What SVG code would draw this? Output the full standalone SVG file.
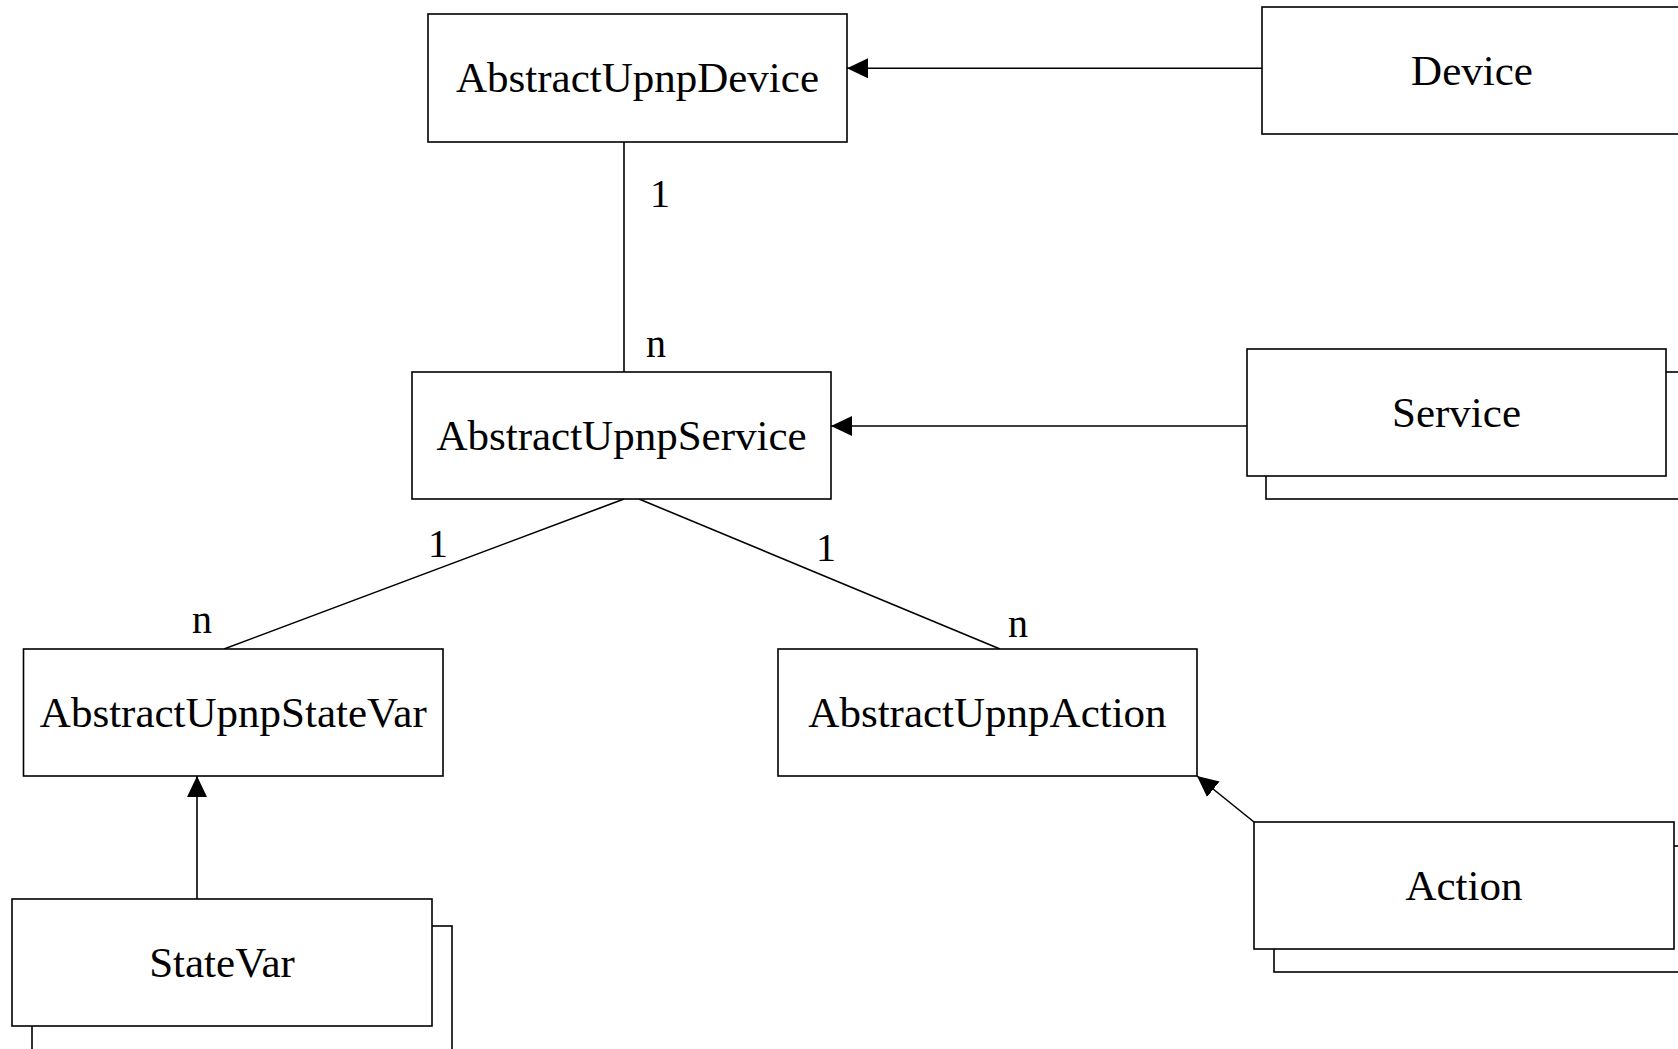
<svg xmlns="http://www.w3.org/2000/svg" width="1678" height="1049" viewBox="0 0 1678 1049">
<style>
.box{fill:#fff;stroke:#000;stroke-width:1.6}
.lbl{font-family:"Liberation Serif","Times New Roman",serif;font-size:43px;fill:#000;text-anchor:middle}
.mult{font-family:"Liberation Serif","Times New Roman",serif;font-size:40px;fill:#000;text-anchor:middle}
.edge{fill:none;stroke:#000;stroke-width:1.6}
</style>
<defs>
<marker id="arr" markerUnits="userSpaceOnUse" markerWidth="22" markerHeight="20" refX="21" refY="10" orient="auto">
<path d="M0,0 L21,10 L0,20 z" fill="#000"/>
</marker>
</defs>
<rect width="1678" height="1049" fill="#fff"/>
<g id="connectors">
<line class="edge" x1="1262" y1="68.3" x2="847" y2="68.3" marker-end="url(#arr)"/>
<line class="edge" x1="1247" y1="426" x2="831" y2="426" marker-end="url(#arr)"/>
<line class="edge" x1="624" y1="142" x2="624" y2="372"/>
<line class="edge" x1="624" y1="499" x2="224" y2="649"/>
<line class="edge" x1="639" y1="499" x2="1000" y2="649"/>
<line class="edge" x1="197" y1="899" x2="197" y2="776" marker-end="url(#arr)"/>
<line class="edge" x1="1254" y1="822" x2="1197" y2="776" marker-end="url(#arr)"/>
<text class="mult" x="660" y="207">1</text>
<text class="mult" x="656" y="357">n</text>
<text class="mult" x="438" y="557">1</text>
<text class="mult" x="202" y="633">n</text>
<text class="mult" x="826" y="561">1</text>
<text class="mult" x="1018" y="637">n</text>
</g>
<g id="AbstractUpnpDevice">
<rect class="box" x="428" y="14" width="419" height="128"/>
<text class="lbl" x="637.5" y="92">AbstractUpnpDevice</text>
</g>
<g id="Device">
<rect class="box" x="1262" y="7" width="420" height="127"/>
<text class="lbl" x="1472" y="85">Device</text>
</g>
<g id="AbstractUpnpService">
<rect class="box" x="412" y="372" width="419" height="127"/>
<text class="lbl" x="621.5" y="450">AbstractUpnpService</text>
</g>
<g id="Service">
<rect class="box" x="1266" y="372" width="419" height="127"/>
<rect class="box" x="1247" y="349" width="419" height="127"/>
<text class="lbl" x="1456.5" y="427">Service</text>
</g>
<g id="AbstractUpnpStateVar">
<rect class="box" x="23.5" y="649" width="419.5" height="127"/>
<text class="lbl" x="233.3" y="727">AbstractUpnpStateVar</text>
</g>
<g id="AbstractUpnpAction">
<rect class="box" x="778" y="649" width="419" height="127"/>
<text class="lbl" x="987.5" y="727">AbstractUpnpAction</text>
</g>
<g id="Action">
<rect class="box" x="1274" y="846" width="420" height="126"/>
<rect class="box" x="1254" y="822" width="420" height="127"/>
<text class="lbl" x="1464" y="900">Action</text>
</g>
<g id="StateVar">
<rect class="box" x="32" y="926" width="420" height="127"/>
<rect class="box" x="12" y="899" width="420" height="127"/>
<text class="lbl" x="222" y="977">StateVar</text>
</g>
</svg>
